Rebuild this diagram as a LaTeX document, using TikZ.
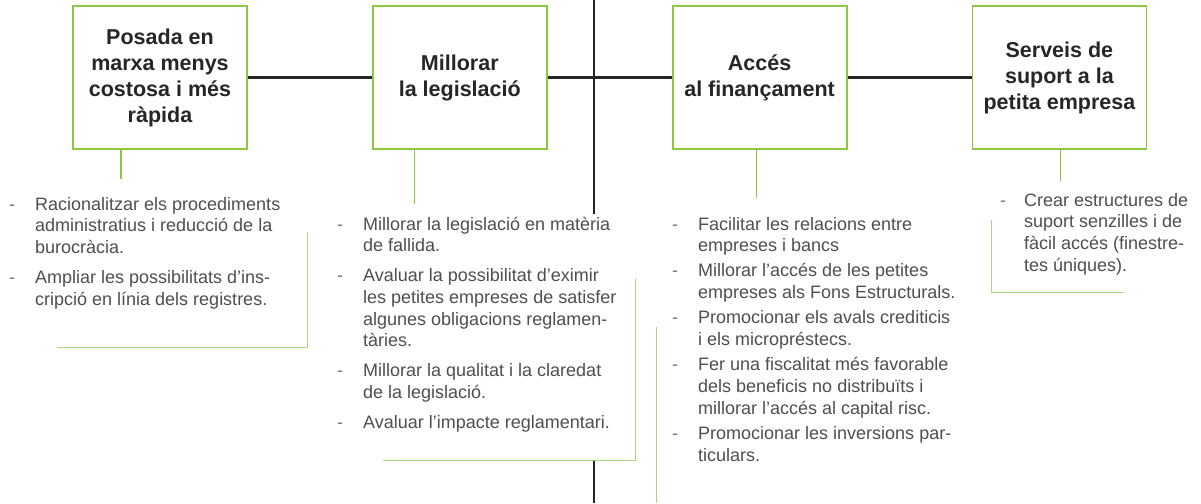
\documentclass[tikz,border=0pt]{standalone}
\usepackage{fontspec}
\setmainfont{Liberation Sans}
\usetikzlibrary{positioning}
\definecolor{boxgreen}{RGB}{141,198,63}
\definecolor{linegreen}{RGB}{170,213,120}
\definecolor{textgray}{RGB}{78,78,78}
\definecolor{dashgray}{RGB}{120,120,120}
\newcommand{\dsh}{\textcolor{dashgray}{-}}
\begin{document}
\begin{tikzpicture}[x=1pt,y=-1pt,
  goal/.style={draw=boxgreen, line width=1.8pt, minimum width=174pt, minimum height=143pt,
    inner sep=0pt, align=center, text=black!85, font=\fontsize{21.5}{26}\selectfont\bfseries},
  list/.style={anchor=base west, inner sep=0pt, text=textgray, font=\fontsize{18}{21.7}\selectfont},
  link/.style={line width=2.6pt, black!85},
  stem/.style={line width=1.3pt, boxgreen},
  bracket/.style={line width=1pt, linegreen}]
\useasboundingbox (0,0) rectangle (1201,503);
% the four boxes
\node[goal] (b1) at (160,77.5) {Posada en\\marxa menys\\costosa i més\\ràpida};
\node[goal, right=124pt of b1] (b2) {Millorar\\la legislació};
\node[goal, right=124pt of b2] (b3) {Accés\\al finançament};
\node[goal, right=124pt of b3] (b4) {Serveis de\\suport a la\\petita empresa};
\draw[link] (b1) -- (b2);
\draw[link] (b2) -- (b3);
\draw[link] (b3) -- (b4);
% central axis
\coordinate (axtop) at (594,0);
\coordinate (axmid) at (594,214);
\coordinate (axlow) at (594,460);
\coordinate (axbot) at (594,503);
\draw[line width=1.5pt, black!85] (axtop) -- (axmid);
\draw[line width=1.5pt, black!85] (axlow) -- (axbot);
% stems under the boxes
\draw[stem] ([xshift=-39]b1.south) -- ++(0,29);
\draw[stem] ([xshift=-45.5]b2.south) -- ++(0,54);
\draw[stem] ([xshift=-3]b3.south) -- ++(0,48);
\draw[stem] ([xshift=1]b4.south) -- ++(0,31);
% lists
\node[list] (l1) at (9,210) {\begin{tabular}[t]{@{}p{26pt}@{}l@{}}
\dsh & Racionalitzar els procediments\\
 & administratius i reducció de la\\
 & burocràcia.\\[8.3pt]
\dsh & Ampliar les possibilitats d’ins-\\
 & cripció en línia dels registres.
\end{tabular}};
\node[list] (l2) at (337,230) {\begin{tabular}[t]{@{}p{26pt}@{}l@{}}
\dsh & Millorar la legislació en matèria\\
 & de fallida.\\[8.3pt]
\dsh & Avaluar la possibilitat d’eximir\\
 & les petites empreses de satisfer\\
 & algunes obligacions reglamen-\\
 & tàries.\\[8.3pt]
\dsh & Millorar la qualitat i la claredat\\
 & de la legislació.\\[8.3pt]
\dsh & Avaluar l’impacte reglamentari.
\end{tabular}};
\node[list] (l3) at (672,230) {\begin{tabular}[t]{@{}p{26pt}@{}l@{}}
\dsh & Facilitar les relacions entre\\
 & empreses i bancs\\[3.5pt]
\dsh & Millorar l’accés de les petites\\
 & empreses als Fons Estructurals.\\[3.5pt]
\dsh & Promocionar els avals crediticis\\
 & i els micropréstecs.\\[3.5pt]
\dsh & Fer una fiscalitat més favorable\\
 & dels beneficis no distribuïts i\\
 & millorar l’accés al capital risc.\\[3.5pt]
\dsh & Promocionar les inversions par-\\
 & ticulars.
\end{tabular}};
\node[list] (l4) at (1000,206) {\begin{tabular}[t]{@{}p{24pt}@{}l@{}}
\dsh & Crear estructures de\\
 & suport senzilles i de\\
 & fàcil accés (finestre-\\
 & tes úniques).
\end{tabular}};
% brackets round the lists
\draw[bracket] (307,232) |- (57,347);
\draw[bracket] (635,279) |- (383,460);
\draw[bracket] (656,327) -- (656,503);
\draw[bracket] (991,220) |- (1124,292);
\end{tikzpicture}
\end{document}
